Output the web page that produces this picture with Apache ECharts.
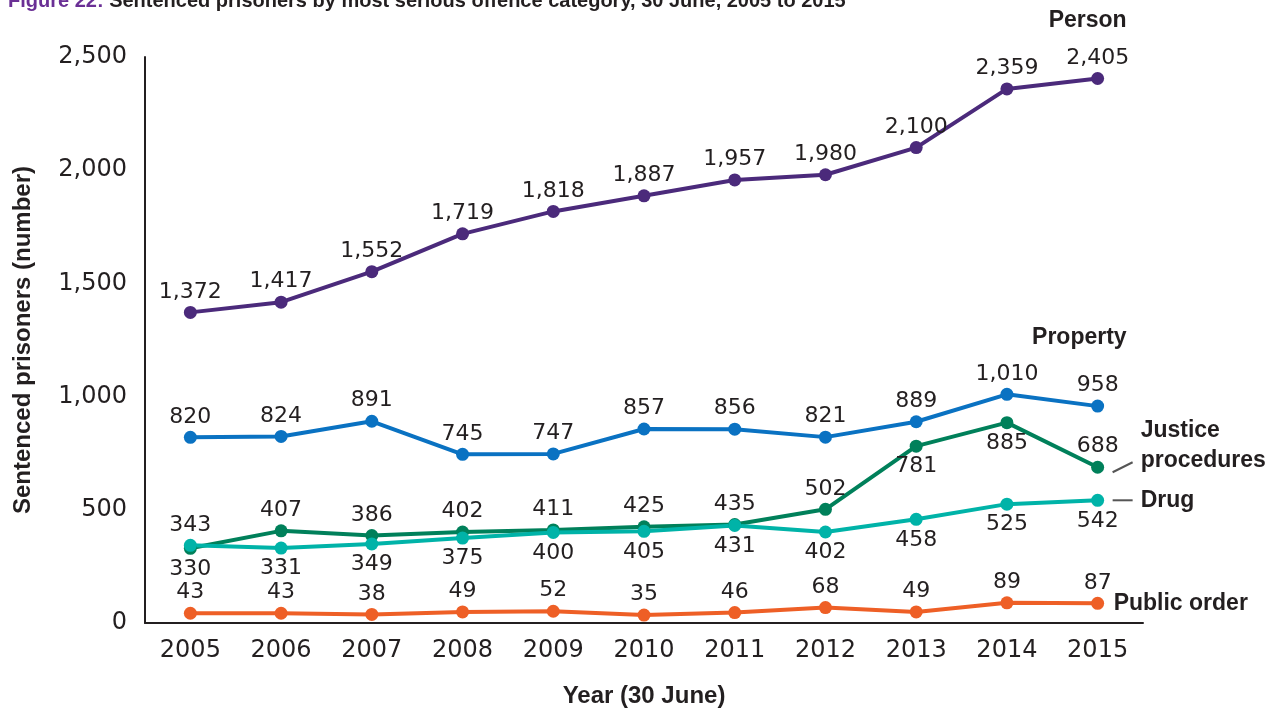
<!DOCTYPE html>
<html>
<head>
<meta charset="utf-8">
<script src="https://cdn.jsdelivr.net/npm/echarts@6/dist/echarts.min.js"></script>
<style>html,body{margin:0;padding:0;background:#fff}#c{width:1285px;height:713px}</style>
</head>
<body>
<div id="c"></div>
<script>
const years = ['2005','2006','2007','2008','2009','2010','2011','2012','2013','2014','2015'];
const person = [1372,1417,1552,1719,1818,1887,1957,1980,2100,2359,2405];
const property = [820,824,891,745,747,857,856,821,889,1010,958];
const justice = [330,407,386,402,411,425,435,502,781,885,688];
const drug = [343,331,349,375,400,405,431,402,458,525,542];
const publicOrder = [43,43,38,49,52,35,46,68,49,89,87];
const yTicks = [0,500,1000,1500,2000,2500];
// label positions per point ('top'/'bottom')
const justicePos = ['bottom','top','top','top','top','top','top','top','bottom','bottom','top'];
const drugPos = ['top','bottom','bottom','bottom','bottom','bottom','bottom','bottom','bottom','bottom','bottom'];

const FONT = '"Liberation Sans", Arial, sans-serif';
const NUMFONT = '"DejaVu Sans", sans-serif';
const fmt = v => v.toLocaleString('en-US');

function mkSeries(name, data, color, positions) {
  return {
    name, type: 'line', data: data.map((v, i) => ({
      value: v,
      label: { position: positions ? positions[i] : 'top' }
    })),
    symbol: 'circle', symbolSize: 13,
    lineStyle: { width: 4, color },
    itemStyle: { color },
    label: {
      show: true, distance: 3, color: '#231f20', fontSize: 22, fontFamily: NUMFONT,
      formatter: p => fmt(p.value)
    },
    z: 3
  };
}

const chart = echarts.init(document.getElementById('c'));
chart.setOption({
  animation: false,
  title: {
    text: '{a|Figure 22:} Sentenced prisoners by most serious offence category, 30 June, 2005 to 2015',
    left: 3, top: -14,
    textStyle: {
      fontFamily: '"Liberation Sans Narrow", ' + FONT, fontSize: 20, color: '#231f20',
      rich: { a: { color: '#6a2f95', fontFamily: '"Liberation Sans Narrow", ' + FONT, fontSize: 20 } }
    }
  },
  grid: { left: 145, right: 142, top: 57, bottom: 89 },
  xAxis: {
    type: 'category', data: years, boundaryGap: true,
    axisLine: { lineStyle: { color: '#231f20', width: 2 } },
    axisTick: { show: false },
    axisLabel: { color: '#231f20', fontSize: 24, fontFamily: NUMFONT, margin: 16 },
    name: 'Year (30 June)', nameLocation: 'middle', nameGap: 61,
    nameTextStyle: { color: '#231f20', fontSize: 24, fontWeight: 'bold', fontFamily: FONT }
  },
  yAxis: {
    type: 'value', min: yTicks[0], max: yTicks[yTicks.length - 1], interval: 500,
    axisLine: { show: true, lineStyle: { color: '#231f20', width: 2 } },
    axisTick: { show: false },
    splitLine: { show: false },
    axisLabel: { color: '#231f20', fontSize: 24, fontFamily: NUMFONT, margin: 18, formatter: v => fmt(v) },
    name: 'Sentenced prisoners (number)', nameLocation: 'middle', nameGap: 110,
    nameTextStyle: { color: '#231f20', fontSize: 24, fontWeight: 'bold', fontFamily: FONT }
  },
  series: [
    mkSeries('Person', person, '#4b2a7b'),
    mkSeries('Property', property, '#0a72c2'),
    mkSeries('Justice procedures', justice, '#00805a', justicePos),
    mkSeries('Drug', drug, '#00b3a8', drugPos),
    mkSeries('Public order', publicOrder, '#ee5f26')
  ]
});

// end labels positioned from the scales
const last = years.length - 1;
const px = (arr) => chart.convertToPixel({ xAxisIndex: 0, yAxisIndex: 0 }, [last, arr[last]]);
const bold = { fontFamily: FONT, fontSize: 23, fontWeight: 'bold', fill: '#231f20' };
const pP = px(person), pPr = px(property), pJ = px(justice), pD = px(drug), pO = px(publicOrder);
chart.setOption({
  graphic: [
    { type: 'text', x: pP[0] + 29, y: pP[1] - 58, style: Object.assign({ text: 'Person', align: 'right', verticalAlign: 'middle' }, bold) },
    { type: 'text', x: pPr[0] + 29, y: pPr[1] - 68, style: Object.assign({ text: 'Property', align: 'right', verticalAlign: 'middle' }, bold) },
    { type: 'text', x: pJ[0] + 43, y: pJ[1] - 22, style: Object.assign({ text: 'Justice\nprocedures', align: 'left', verticalAlign: 'middle', lineHeight: 30 }, bold) },
    { type: 'line', shape: { x1: pJ[0] + 15, y1: pJ[1] + 5, x2: pJ[0] + 35, y2: pJ[1] - 5 }, style: { stroke: '#555', lineWidth: 2 } },
    { type: 'text', x: pD[0] + 43, y: pD[1], style: Object.assign({ text: 'Drug', align: 'left', verticalAlign: 'middle' }, bold) },
    { type: 'line', shape: { x1: pD[0] + 15, y1: pD[1], x2: pD[0] + 35, y2: pD[1] }, style: { stroke: '#555', lineWidth: 2 } },
    { type: 'text', x: pO[0] + 16, y: pO[1], style: Object.assign({ text: 'Public order', align: 'left', verticalAlign: 'middle' }, bold) }
  ]
});
</script>
</body>
</html>
